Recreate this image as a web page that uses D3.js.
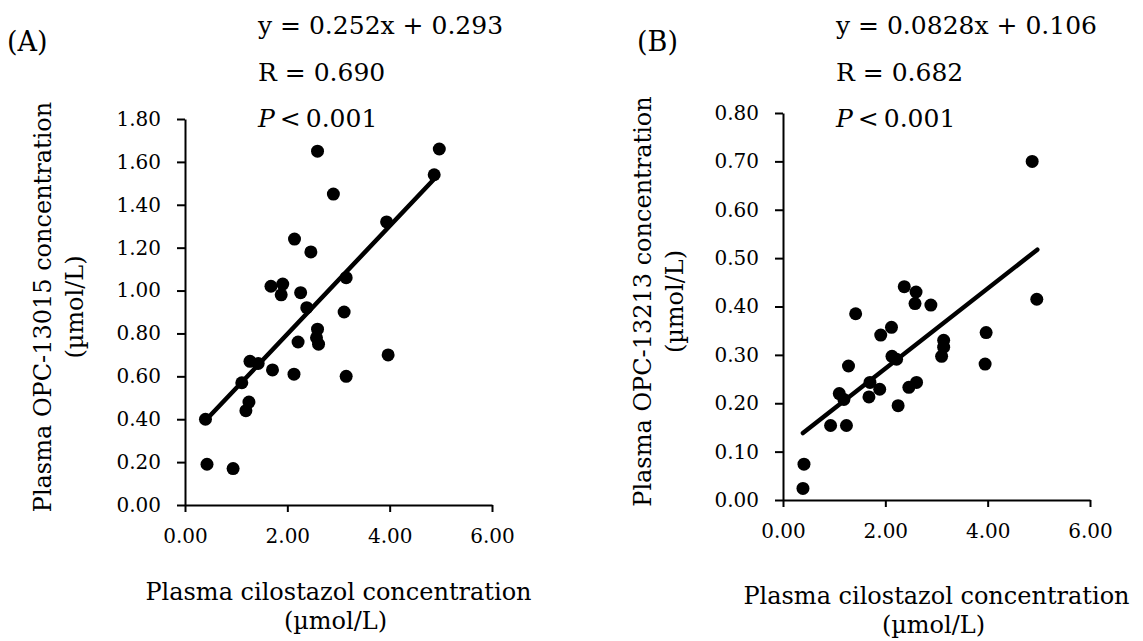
<!DOCTYPE html>
<html>
<head>
<meta charset="utf-8">
<script src="https://cdn.jsdelivr.net/npm/d3@7"></script>
<style>
  body { margin: 0; background: #fff; }
  svg text { font-family: "DejaVu Serif", serif; fill: #000; }
</style>
</head>
<body>
<div id="chart"></div>
<script>
// Data
const xTicks = [0, 2, 4, 6];
const yTicksA = [0, 0.2, 0.4, 0.6, 0.8, 1.0, 1.2, 1.4, 1.6, 1.8];
const yTicksB = [0, 0.1, 0.2, 0.3, 0.4, 0.5, 0.6, 0.7, 0.8];

// (A) cilostazol vs OPC-13015
const cilostazolA = [2.59, 4.97, 4.87, 2.90, 3.94, 2.14, 2.46, 1.68, 1.91, 1.88,
                     2.26, 3.15, 2.38, 3.11, 2.59, 2.57, 2.61, 2.21, 3.97, 1.27,
                     1.43, 1.71, 2.13, 3.15, 1.11, 1.25, 1.19, 0.40, 0.43, 0.94];
const opc13015 = [1.65, 1.66, 1.54, 1.45, 1.32, 1.24, 1.18, 1.02, 1.03, 0.98,
                  0.99, 1.06, 0.92, 0.90, 0.82, 0.78, 0.75, 0.76, 0.70, 0.67,
                  0.66, 0.63, 0.61, 0.60, 0.57, 0.48, 0.44, 0.40, 0.19, 0.17];

// (B) cilostazol vs OPC-13213
const cilostazolB = [4.87, 4.96, 1.42, 2.37, 2.60, 2.58, 2.89, 3.97, 2.12, 1.91,
                     3.14, 3.14, 3.10, 3.95, 1.28, 2.13, 2.22, 1.70, 1.89, 2.61,
                     2.46, 1.10, 1.19, 1.68, 2.25, 0.93, 1.24, 0.41, 0.39];
const opc13213 = [0.700, 0.415, 0.385, 0.441, 0.430, 0.406, 0.403, 0.346, 0.357, 0.341,
                  0.330, 0.316, 0.297, 0.281, 0.277, 0.297, 0.291, 0.243, 0.229, 0.243,
                  0.233, 0.220, 0.208, 0.213, 0.195, 0.154, 0.154, 0.074, 0.024];

// regression lines (from the printed equations)
const fitA = {slope: 0.252, intercept: 0.293, xRange: [0.40, 4.87]};
const fitB = {slope: 0.0828, intercept: 0.106, xRange: [0.39, 4.97]};

const panels = [
    {tag: "(A)", tagX: 7, xs: cilostazolA, ys: opc13015, fit: fitA, yTicks: yTicksA, yMax: 1.8,
     left: 185, right: 492, top: 119, bottom: 505, noteX: 258,
     notes: ["y = 0.252x + 0.293", "R = 0.690"],
     yTitle: "Plasma OPC-13015 concentration", yTitleX: 51, xTitleY: 600},
    {tag: "(B)", tagX: 637, xs: cilostazolB, ys: opc13213, fit: fitB, yTicks: yTicksB, yMax: 0.8,
     left: 783, right: 1090, top: 113, bottom: 500, noteX: 836,
     notes: ["y = 0.0828x + 0.106", "R = 0.682"],
     yTitle: "Plasma OPC-13213 concentration", yTitleX: 651, xTitleY: 604}
];

const svg = d3.select("#chart")
              .append("svg")
              .attr("width", 1143)
              .attr("height", 641);

svg.append("rect")
   .attr("width", 1143)
   .attr("height", 641)
   .attr("fill", "#fff");

panels.forEach(p => {
    const x = d3.scaleLinear().domain([0, 6]).range([p.left, p.right]);
    const y = d3.scaleLinear().domain([0, p.yMax]).range([p.bottom, p.top]);

    // y axis
    const yAxis = svg.append("g")
                     .attr("transform", `translate(${p.left},0)`)
                     .call(d3.axisLeft(y)
                             .tickValues(p.yTicks)
                             .tickFormat(d3.format(".2f"))
                             .tickSize(8)
                             .tickSizeOuter(0)
                             .tickPadding(16));

    // x axis
    const xAxis = svg.append("g")
                     .attr("transform", `translate(0,${p.bottom})`)
                     .call(d3.axisBottom(x)
                             .tickValues(xTicks)
                             .tickFormat(d3.format(".2f"))
                             .tickSize(7)
                             .tickSizeOuter(0)
                             .tickPadding(17));

    [xAxis, yAxis].forEach(g => {
        g.attr("font-family", null).attr("font-size", null);
        g.select(".domain").attr("stroke", "#000").attr("stroke-width", 2);
        g.selectAll(".tick line").attr("stroke", "#000").attr("stroke-width", 2);
        g.selectAll(".tick text").style("font-size", "20px");
    });

    // points
    svg.append("g")
       .selectAll("circle")
       .data(p.xs.map((v, i) => ({x: v, y: p.ys[i]})))
       .enter().append("circle")
       .attr("cx", d => x(d.x))
       .attr("cy", d => y(d.y))
       .attr("r", 6.5)
       .attr("fill", "#000");

    // trend line
    svg.append("path")
       .datum(p.fit.xRange.map(v => ({x: v, y: p.fit.slope * v + p.fit.intercept})))
       .attr("d", d3.line().x(d => x(d.x)).y(d => y(d.y)))
       .attr("fill", "none")
       .attr("stroke", "#000")
       .attr("stroke-width", 4.5)
       .attr("stroke-linecap", "round");

    // panel tag
    svg.append("text")
       .attr("x", p.tagX)
       .attr("y", 51)
       .style("font-size", "27px")
       .text(p.tag);

    // equation, R and P
    p.notes.forEach((t, i) => {
        svg.append("text")
           .attr("x", p.noteX)
           .attr("y", 34 + i * 47)
           .style("font-size", "25px")
           .text(t);
    });
    const pt = svg.append("text")
                  .attr("x", p.noteX)
                  .attr("y", 127)
                  .style("font-size", "25px");
    pt.append("tspan").style("font-style", "italic").text("P");
    pt.append("tspan").text("\u2009<\u20090.001");

    // x title
    const cx = (p.left + p.right) / 2;
    svg.append("text")
       .attr("x", cx)
       .attr("y", p.xTitleY)
       .attr("text-anchor", "middle")
       .style("font-size", "24px")
       .text("Plasma cilostazol concentration");
    svg.append("text")
       .attr("x", cx - 3)
       .attr("y", p.xTitleY + 29)
       .attr("text-anchor", "middle")
       .style("font-size", "24px")
       .text("(\u00b5mol/L)");

    // y title
    const cy = (p.top + p.bottom) / 2 - 5;
    svg.append("text")
       .attr("transform", `translate(${p.yTitleX},${cy}) rotate(-90)`)
       .attr("text-anchor", "middle")
       .style("font-size", "24px")
       .text(p.yTitle);
    svg.append("text")
       .attr("transform", `translate(${p.yTitleX + 32},${cy}) rotate(-90)`)
       .attr("text-anchor", "middle")
       .style("font-size", "24px")
       .text("(\u00b5mol/L)");
});
</script>
</body>
</html>
